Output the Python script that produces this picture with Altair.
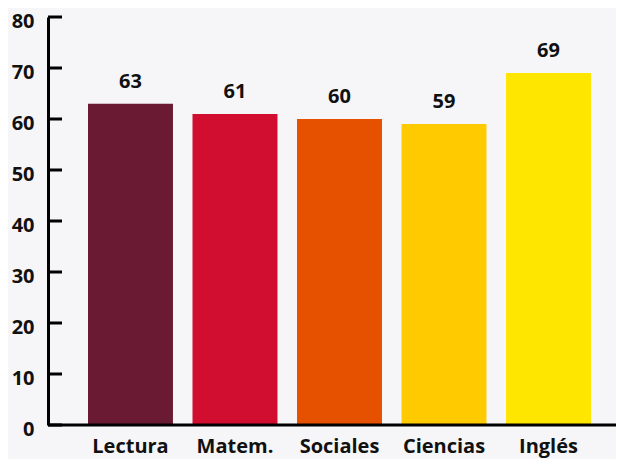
import altair as alt
import pandas as pd

categories = ["Lectura", "Matem.", "Sociales", "Ciencias", "Inglés"]
values = [63, 61, 60, 59, 69]
colors = ["#6b1a33", "#d10d30", "#e65100", "#ffcb00", "#ffe600"]
y_ticks = [0, 10, 20, 30, 40, 50, 60, 70, 80]

df = pd.DataFrame({"cat": categories, "val": values, "col": colors})
ticks_df = pd.DataFrame({"t": y_ticks})

FONT = "Open Sans"
FS = 20

x_enc = alt.X(
    "cat:N",
    sort=categories,
    scale=alt.Scale(range=[40, 543], paddingInner=0.187, paddingOuter=0),
    axis=alt.Axis(
        title=None, domain=False, ticks=False, tickSize=0, labelAngle=0,
        labelFont=FONT, labelFontSize=FS, labelFontWeight="bold", labelColor="#111111",
        labelBaseline="alphabetic", labelPadding=27,
    ),
)
y_scale = alt.Scale(domain=[0, 80], nice=False)
y_enc = alt.Y(
    "val:Q",
    scale=y_scale,
    axis=alt.Axis(
        title=None, values=y_ticks, grid=False, ticks=False, tickSize=0,
        domain=True, domainColor="#000000", domainWidth=3,
        labelFont=FONT, labelFontSize=FS, labelFontWeight="bold", labelColor="#111111",
        labelPadding=14, labelOffset=4,
    ),
)

bars = alt.Chart(df).mark_bar().encode(
    x=x_enc,
    y=y_enc,
    color=alt.Color("col:N", scale=None),
)

labels = alt.Chart(df).mark_text(
    font=FONT, fontSize=FS, fontWeight="bold", color="#111111",
    baseline="alphabetic", dy=-16,
).encode(
    x=alt.X("cat:N", sort=categories),
    y=alt.Y("val:Q"),
    text=alt.Text("val:Q"),
)

tick_rules = alt.Chart(ticks_df).mark_rule(color="#000000", strokeWidth=3).encode(
    y=alt.Y("t:Q", scale=y_scale),
    x=alt.value(0),
    x2=alt.value(14),
)

baseline = alt.Chart(pd.DataFrame({"t": [0]})).mark_rule(color="#000000", strokeWidth=3).encode(
    y=alt.Y("t:Q", scale=y_scale),
    x=alt.value(0),
    x2=alt.value(590),
)

chart = alt.layer(bars, labels, tick_rules, baseline).properties(
    width=568,
    height=408,
    background="#f6f6f8",
    padding={"left": 40, "top": 9, "right": 0, "bottom": 34},
    autosize=alt.AutoSizeParams(type="none"),
).configure_view(stroke=None)

chart.save("out.html", embed_options={"renderer": "svg", "actions": False})
